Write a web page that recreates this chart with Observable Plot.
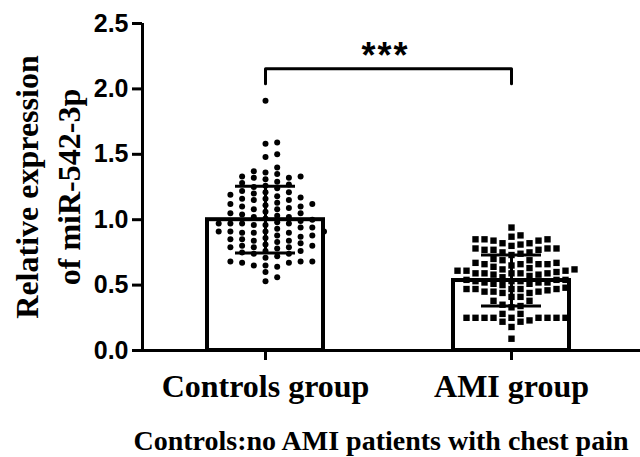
<!DOCTYPE html>
<html>
<head>
<meta charset="utf-8">
<script src="https://cdn.jsdelivr.net/npm/d3@7"></script>
<script src="https://cdn.jsdelivr.net/npm/@observablehq/plot@0.6"></script>
<style>
  html, body { margin: 0; padding: 0; background: #fff; }
  #wrap { position: relative; width: 640px; height: 457px; overflow: hidden; }
  #chart svg { display: block; }
  .caption {
    position: absolute; left: 0; top: 427px; width: 640px; text-align: center;
    font-family: "Liberation Serif", "Times New Roman", serif; font-weight: bold;
    font-size: 28px; line-height: 28px; color: #000; padding-left: 122px; box-sizing: border-box;
  }
</style>
</head>
<body>
<div id="wrap"><div id="chart"></div><div class="caption" id="cap"></div></div>
<script>
// ---- data ----
const groups = ["Controls group", "AMI group"];
const means = [1.00, 0.535];
const sds = [0.255, 0.195];
const controls = [
  1.91,
  1.59, 1.58,
  1.50, 1.48,
  1.40,
  1.37, 1.36, 1.35,
  1.33, 1.32, 1.33, 1.32,
  1.31,
  1.28, 1.29, 1.27,
  1.25, 1.24, 1.26,
  1.21, 1.22, 1.20, 1.21,
  1.18, 1.19, 1.17,
  1.16, 1.15, 1.16, 1.15,
  1.12, 1.13, 1.12,
  1.10, 1.10, 1.11,
  1.09, 1.08, 1.08,
  1.05, 1.06, 1.04, 1.05,
  1.02, 1.03, 1.01, 1.02,
  1.00, 0.99,
  0.97, 0.97, 0.96, 0.98, 0.97, 0.96, 0.97,
  0.94, 0.93, 0.94,
  0.91, 0.90, 0.91, 0.90, 0.91, 0.90, 0.91,
  0.88, 0.88, 0.87,
  0.86, 0.85, 0.85,
  0.84, 0.83, 0.84,
  0.82, 0.81,
  0.80, 0.80, 0.79,
  0.79, 0.78, 0.79,
  0.76, 0.76,
  0.75, 0.74, 0.74,
  0.72, 0.71,
  0.68, 0.67, 0.68, 0.67, 0.68,
  0.65, 0.65,
  0.64, 0.60, 0.56, 0.53
];
const ami = [
  0.94,
  0.87, 0.88,
  0.85, 0.84, 0.85, 0.84, 0.85,
  0.82, 0.82, 0.81,
  0.80,
  0.78, 0.77, 0.78, 0.77, 0.78, 0.77,
  0.75, 0.75, 0.74,
  0.73,
  0.69, 0.70, 0.69,
  0.66, 0.67, 0.66, 0.66, 0.67, 0.66,
  0.65, 0.64, 0.63,
  0.61, 0.61, 0.62, 0.60, 0.61, 0.62,
  0.59, 0.59, 0.58, 0.59, 0.59, 0.58, 0.59,
  0.57, 0.56,
  0.54, 0.53, 0.54, 0.53, 0.54, 0.53,
  0.52, 0.51, 0.52, 0.51, 0.52,
  0.50,
  0.47, 0.47, 0.48, 0.47, 0.47, 0.46, 0.47,
  0.45, 0.44, 0.45, 0.44, 0.45,
  0.41, 0.41,
  0.38, 0.38,
  0.34, 0.35,
  0.33,
  0.28, 0.28,
  0.25, 0.25, 0.25, 0.25, 0.25, 0.25, 0.25, 0.25, 0.25,
  0.22, 0.23, 0.22,
  0.18,
  0.09
];
const yTicks = [0, 0.5, 1.0, 1.5, 2.0, 2.5];
const sigLabel = "***";
const bracketY = 2.155;
const bracketTip = 2.04;
const yLabel = "Relative expression\nof miR-542-3p";
const caption = "Controls:no AMI patients with chest pain";

// ---- layout constants ----
const W = 640, H = 415, mL = 142, mR = 6, mT = 23, mB = 65;
const xDomain = [-0.5, 1.5];
const yDomain = [0, 2.5];
const pxX = (W - mL - mR) / (xDomain[1] - xDomain[0]);
const pxY = (H - mT - mB) / (yDomain[1] - yDomain[0]);
const barHalf = 58 / pxX;
const capHalf = 30 / pxX;

// GraphPad-like column scatter: spread points that collide vertically into side columns
function columnScatter(values, gi, spacingPx, gapPx) {
  const spacing = spacingPx / pxX, gap = gapPx / pxY;
  const cols = new Map();
  const out = [];
  for (const v of values.slice().sort((a, b) => a - b)) {
    for (let j = 0; ; j++) {
      const k = j === 0 ? 0 : (j % 2 ? (j + 1) / 2 : -j / 2);
      const col = cols.get(k) || [];
      if (col.every(u => Math.abs(u - v) >= gap)) {
        col.push(v); cols.set(k, col);
        out.push({g: gi, x: gi + k * spacing, y: v});
        break;
      }
    }
  }
  return out;
}

const stats = groups.map((g, i) => ({i, g, mean: means[i], lo: means[i] - sds[i], hi: means[i] + sds[i]}));
const ctrlPts = columnScatter(controls, 0, 11.7, 6.5);
const amiPts = columnScatter(ami, 1, 9, 7);
const bracket = [
  {x: 0, y: bracketTip}, {x: 0, y: bracketY}, {x: 1, y: bracketY}, {x: 1, y: bracketTip}
];

const plot = Plot.plot({
  width: W, height: H,
  marginLeft: mL, marginRight: mR, marginTop: mT, marginBottom: mB,
  x: {domain: xDomain, axis: null},
  y: {domain: yDomain, axis: null},
  style: {background: "white", overflow: "visible", color: "black"},
  marks: [
    Plot.rectY(stats, {x1: d => d.i - barHalf, x2: d => d.i + barHalf, y1: 0, y2: "mean",
      fill: "white", stroke: "black", strokeWidth: 4}),
    Plot.dot(ctrlPts, {x: "x", y: "y", r: 3, fill: "black", stroke: "none", symbol: "circle"}),
    Plot.dot(amiPts, {x: "x", y: "y", r: 3.6, fill: "black", stroke: "none", symbol: "square"}),
    Plot.ruleX(stats, {x: "i", y1: "lo", y2: "hi", stroke: "black", strokeWidth: 3}),
    Plot.ruleY(stats, {x1: d => d.i - capHalf, x2: d => d.i + capHalf, y: "lo", stroke: "black", strokeWidth: 3}),
    Plot.ruleY(stats, {x1: d => d.i - capHalf, x2: d => d.i + capHalf, y: "hi", stroke: "black", strokeWidth: 3}),
    Plot.ruleX([xDomain[0]], {y1: yDomain[0], y2: yDomain[1], stroke: "black", strokeWidth: 3}),
    Plot.ruleY([0], {stroke: "black", strokeWidth: 3, insetRight: -mR, insetLeft: -1.5}),
    Plot.axisY(yTicks, {tickSize: 10, tickPadding: 4, stroke: "black", strokeWidth: 3,
      tickFormat: d3.format(".1f"), fontFamily: "Liberation Sans, Arial, sans-serif",
      fontWeight: "bold", fontSize: 25, label: null}),
    Plot.axisX([0, 1], {tickSize: 10, tickPadding: 14, stroke: "black", strokeWidth: 3,
      tickFormat: i => groups[i], fontFamily: "Liberation Serif, Times New Roman, serif",
      fontWeight: "bold", fontSize: 32, label: null}),
    Plot.line(bracket, {x: "x", y: "y", stroke: "black", strokeWidth: 3, curve: "linear"}),
    Plot.text([sigLabel], {x: () => 0.5, y: () => bracketY, dy: -12, dx: -3, text: d => d,
      fontFamily: "Liberation Sans, Arial, sans-serif", fontWeight: "bold", fontSize: 36}),
    Plot.text([yLabel], {frameAnchor: "left", textAnchor: "middle", rotate: -90, dx: -97, text: d => d,
      lineHeight: 1.3, fontFamily: "Liberation Serif, Times New Roman, serif",
      fontWeight: "bold", fontSize: 32})
  ]
});
// widen the spacing between the significance asterisks
d3.select(plot).selectAll("text").filter(function() { return this.textContent === sigLabel; })
  .style("letter-spacing", "2px");
document.getElementById("chart").appendChild(plot);
document.getElementById("cap").textContent = caption;
</script>
</body>
</html>
